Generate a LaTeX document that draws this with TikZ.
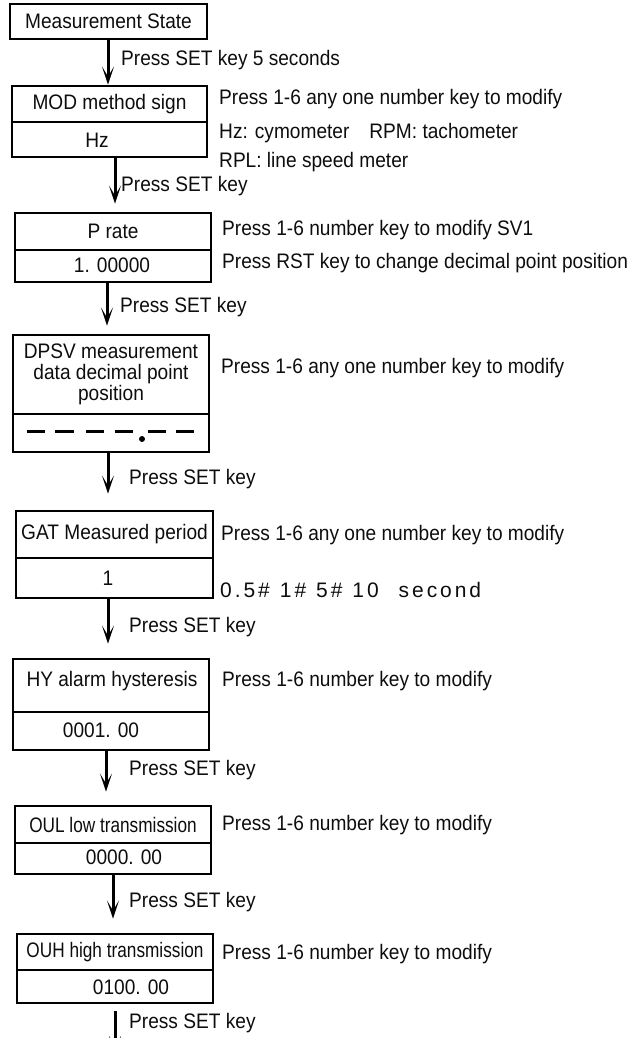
\documentclass[tikz,border=0pt]{standalone}
\usepackage{fontspec}
\setmainfont{Liberation Sans}[FakeStretch=0.91]
\newfontfamily\narrowfont{Liberation Sans}[FakeStretch=0.82]
\newfontfamily\spacedfont{Liberation Sans}[LetterSpace=14]
\usetikzlibrary{arrows.meta,calc}
\begin{document}
\begin{tikzpicture}[x=1pt,y=-1pt,
  every node/.style={font=\fontsize{21}{21}\selectfont, text=black!95},
  frame/.style={draw, line width=2.9pt, inner sep=0pt, align=center},
  txt/.style={inner sep=0pt, anchor=west},
  val/.style={inner sep=0pt},
  arr/.style={line width=3pt, -{Stealth[length=18pt,width=12pt,inset=10pt]}},
  dashseg/.style={line width=3pt}]
\useasboundingbox (0,0) rectangle (636,1038);
\clip (0,0) rectangle (636,1038);

% Measurement State
\node[frame, minimum width=197pt, minimum height=35pt] (s0) at (108.5,21.5) {Measurement State};

% MOD
\node[frame, minimum width=195pt, minimum height=36pt] (m1) at (109.5,104) {MOD method sign};
\node[frame, minimum width=195pt, minimum height=35pt] (m2) at (109.5,139.5) {};
\node[val] (m2v) at (97,140) {Hz};
\node[txt] (m1a) at (219,99) {Press 1-6 any one number key to modify};
\node[txt] (m1b) at (219,133) {Hz: cymometer\hspace{20pt}RPM: tachometer};
\node[txt] (m1c) at (219,162) {RPL: line speed meter};

% P rate
\node[frame, minimum width=196pt, minimum height=37pt] (p1) at (113,231.5) {P rate};
\node[frame, minimum width=196pt, minimum height=32pt] (p2) at (113,266) {};
\node[val] (p2v) at (112,265) {1. 00000};
\node[txt] (p1a) at (222,230) {Press 1-6 number key to modify SV1};
\node[txt] (p2a) at (222,263) {Press RST key to change decimal point position};

% DPSV
\node[frame, minimum width=196pt, minimum height=79pt] (d1) at (111,374.5)
  {DPSV measurement\\data decimal point\\position};
\node[frame, minimum width=196pt, minimum height=38pt] (d2) at (111,433) {};
\node[txt] (d1a) at (221,368) {Press 1-6 any one number key to modify};
\foreach \a/\b in {27/45,55/74,86/104,115/133,148/166,176/194}
  \draw[dashseg] (\a,431) -- (\b,431);
\fill (142,439) circle (3pt);

% GAT
\node[frame, minimum width=197pt, minimum height=47pt] (g1) at (114.5,534.5) {GAT Measured period};
\node[frame, minimum width=197pt, minimum height=40pt] (g2) at (114.5,578) {};
\node[val] (g2v) at (108,578) {1};
\node[txt] (g1a) at (221,535) {Press 1-6 any one number key to modify};
\node[txt, font=\spacedfont\fontsize{21}{21}\selectfont] (g2a) at (220,590)
  {0.5\#\hspace{10pt}1\#\hspace{10pt}5\#\hspace{10pt}10\hspace{20pt}second};

% HY
\node[frame, minimum width=196pt, minimum height=53pt] (h1) at (111,685.5) {};
\node[val] (h1t) at (112,681) {HY alarm hysteresis};
\node[frame, minimum width=196pt, minimum height=38pt] (h2) at (111,731) {};
\node[val] (h2v) at (101,730) {0001. 00};
\node[txt] (h1a) at (222,681) {Press 1-6 number key to modify};

% OUL
\node[frame, minimum width=196pt, minimum height=37pt, font=\narrowfont\fontsize{21}{21}\selectfont] (l1) at (113,824.5) {OUL low transmission};
\node[frame, minimum width=196pt, minimum height=31pt] (l2) at (113,858.5) {};
\node[val] (l2v) at (124,857) {0000. 00};
\node[txt] (l1a) at (222,825) {Press 1-6 number key to modify};

% OUH
\node[frame, minimum width=196pt, minimum height=36pt, font=\narrowfont\fontsize{21}{21}\selectfont] (u1) at (115,952) {OUH high transmission};
\node[frame, minimum width=196pt, minimum height=33pt] (u2) at (115,986.5) {};
\node[val] (u2v) at (131,987) {0100. 00};
\node[txt] (u1a) at (222,954) {Press 1-6 number key to modify};
\coordinate (out) at (115,1054);

% connectors
\draw[arr] ([xshift=-0.5pt]s0.south) -- ([xshift=-1.5pt]m1.north);
\draw[arr, shorten >=8pt] ([xshift=5.5pt]m2.south) -- ([xshift=2pt]p1.north);
\draw[arr, shorten >=8pt] ([xshift=-6pt]p2.south) -- ([xshift=-4pt]d1.north);
\draw[arr, shorten >=16pt] ([xshift=-3pt]d2.south) -- ([xshift=-6.5pt]g1.north);
\draw[arr, shorten >=14pt] ([xshift=-6.5pt]g2.south) -- ([xshift=-3pt]h1.north);
\draw[arr, shorten >=13pt] ([xshift=-5pt]h2.south) -- ([xshift=-7pt]l1.north);
\draw[arr, shorten >=14pt] (l2.south) -- ([xshift=-2pt]u1.north);
\draw[arr, shorten <=7pt] (u2.south) -- (out);

% connector labels
\node[txt] (k1) at (121,60) {Press SET key 5 seconds};
\node[txt] (k2) at (121,186) {Press SET key};
\node[txt] (k3) at (120,307) {Press SET key};
\node[txt] (k4) at (129,479) {Press SET key};
\node[txt] (k5) at (129,627) {Press SET key};
\node[txt] (k6) at (129,770) {Press SET key};
\node[txt] (k7) at (129,902) {Press SET key};
\node[txt] (k8) at (129,1023) {Press SET key};
\end{tikzpicture}
\end{document}
